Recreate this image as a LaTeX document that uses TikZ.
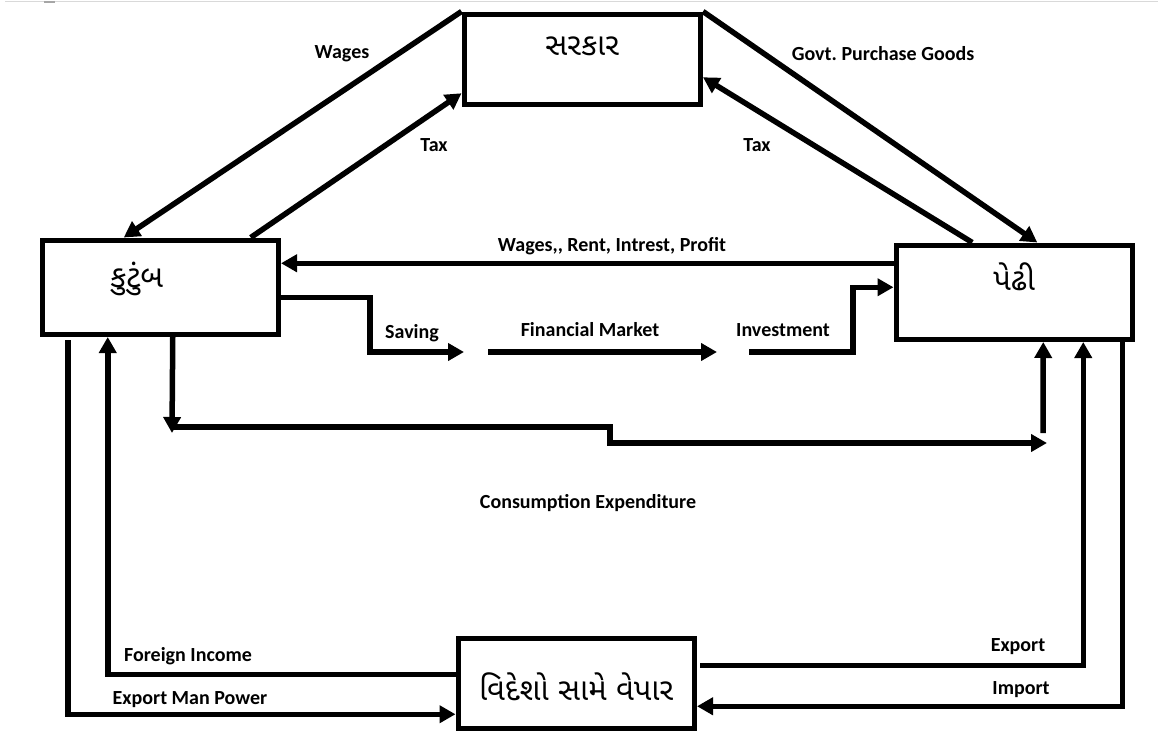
\documentclass[tikz,border=0pt]{standalone}
\usepackage{fontspec}
\setmainfont{Carlito}
\newfontfamily\gujfont[Script=Gujarati]{Noto Sans Gujarati UI}
\usetikzlibrary{arrows.meta}
\frenchspacing

\begin{document}
\begin{tikzpicture}[
        x=1pt, y=-1pt,
        box/.style = {draw, line width=5.5pt, inner sep=0pt, minimum width=236pt,
            anchor=north west, font=\gujfont\fontsize{31}{33}\selectfont},
        flow/.style = {line width=5.5pt, -{Triangle[length=16pt, width=17pt]}},
        lbl/.style = {font=\bfseries\fontsize{20}{24}\selectfont, inner sep=0pt}
    ]
    \useasboundingbox (0,0) rectangle (1158,731);
    \draw[gray!30, line width=1pt] (5,1.5) -- (1158,1.5);
    \draw[gray!70, line width=2pt] (44,1.5) -- (55,1.5);
    %--- Draw Sectors ---%
        \node (sarkar) [box, text height=41pt, text depth=49pt] at (461.5,11.5) {સરકાર};
        \node (kutumb) [box, text height=47pt, text depth=47pt] at (39.5,237.5) {કુટુંબ\kern47pt};
        \node (pedhi) [box, text height=45pt, text depth=49pt] at (893.5,242.5) {પેઢી};
        \node (videsh) [box, text height=62pt, text depth=28pt] at (455.5,635.5) {વિદેશો સામે વેપાર};
    %--- Free ends ---%
        \coordinate (saveend) at (464,352);
        \coordinate (fmstart) at (488,352);
        \coordinate (fmend) at (717,352);
        \coordinate (invstart) at (749,352);
        \coordinate (invbend) at (853,352);
        \coordinate (consdown) at (172,433);
        \coordinate (consstart) at (172,427);
        \coordinate (consstep) at (610,443);
        \coordinate (consend) at (1047,443);
        \coordinate (consup) at (1043,433);
    %--- Draw Government Flows ---%
        \draw[flow] (sarkar.north west) -- ([xshift=-36.5pt]kutumb.north);
        \draw[flow] ([xshift=90.5pt]kutumb.north) -- ([yshift=-34pt]sarkar.west);
        \draw[flow] (sarkar.north east) -- ([xshift=23pt]pedhi.north);
        \draw[flow] ([xshift=-42pt]pedhi.north) -- ([yshift=-18pt]sarkar.east);
    %--- Draw Market Flows ---%
        \draw[flow] ([yshift=29pt]pedhi.west) -- ([yshift=24pt]kutumb.east);
        \draw[flow] ([yshift=-10pt]kutumb.east) -| (370,352) -- (saveend);
        \draw[flow] (fmstart) -- (fmend);
        \draw[flow] (invstart) -- (invbend) |- ([yshift=5pt]pedhi.west);
        \draw[flow] ([xshift=12.5pt]kutumb.south) -- (consdown);
        \draw[flow] (consstart) -| (consstep) -- (consend);
        \draw[flow] (consup) -- ([xshift=29pt]pedhi.south);
    %--- Draw Foreign Trade ---%
        \draw[flow, shorten <=3pt] ([xshift=-92.5pt]kutumb.south) |- ([yshift=-31pt]videsh.west);
        \draw[flow] ([yshift=9pt]videsh.west) -| ([xshift=-52.5pt]kutumb.south);
        \draw[flow, shorten <=3pt] ([yshift=18pt]videsh.east) -| ([xshift=69pt]pedhi.south);
        \draw[flow] ([xshift=108pt]pedhi.south) |- ([yshift=-23pt]videsh.east);
    %--- Labels ---%
        \node (lwage) [lbl] at (342,54) {Wages};
        \node (ltaxh) [lbl] at (434,145) {Tax};
        \node (lgovt) [lbl] at (883,54) {Govt. Purchase Goods};
        \node (ltaxf) [lbl] at (757,145) {Tax};
        \node (lfactor) [lbl] at (612,246) {Wages,{},{} Rent, Intrest, Profit};
        \node (lsave) [lbl] at (412,333) {Saving};
        \node (lfin) [lbl] at (590,330) {Financial Market};
        \node (linv) [lbl] at (783,330) {Investment};
        \node (lcons) [lbl] at (588,503) {Consumption Expenditure};
        \node (lforeign) [lbl] at (188,656) {Foreign Income};
        \node (lmanpow) [lbl] at (190,700) {Export Man Power};
        \node (lexport) [lbl] at (1018,647) {Export};
        \node (limport) [lbl] at (1021,690) {Import};
\end{tikzpicture}
\end{document}
